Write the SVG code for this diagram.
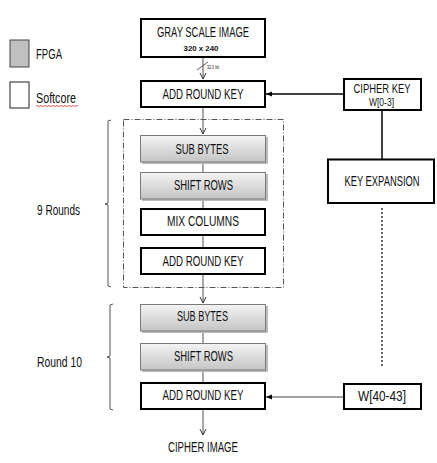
<svg xmlns="http://www.w3.org/2000/svg" width="437" height="463" viewBox="0 0 437 463">
<defs>
<linearGradient id="gr" x1="0" y1="0" x2="0" y2="1">
<stop offset="0" stop-color="#f4f4f4"/>
<stop offset="1" stop-color="#c4c4c4"/>
</linearGradient>
<marker id="ah" markerWidth="8" markerHeight="8" refX="7" refY="4" orient="auto" markerUnits="userSpaceOnUse">
<path d="M1,1 L7,4 L1,7" fill="none" stroke="#333" stroke-width="1"/>
</marker>
<marker id="ahf" markerWidth="8" markerHeight="8" refX="7" refY="4" orient="auto" markerUnits="userSpaceOnUse">
<path d="M1,1.5 L7,4 L1,6.5 Z" fill="#000"/>
</marker>
</defs>
<style>
text{font-family:"Liberation Sans",Arial,sans-serif;fill:#111;}
.t{font-size:14px;text-anchor:middle;}
.l{font-size:14px;}
.wb{fill:#fff;stroke:#000;stroke-width:2;}
.gb{fill:url(#gr);stroke:#7a7a7a;stroke-width:1;}
.sh{fill:#bbb;}
.ln{fill:none;stroke:#555;stroke-width:1;}
</style>
<rect width="437" height="463" fill="#fff"/>

<g id="legend">
<rect x="10" y="40" width="19" height="27" fill="#c0c0c0" stroke="#444" stroke-width="1"/>
<text class="l" x="36" y="59" textLength="26" lengthAdjust="spacingAndGlyphs">FPGA</text>
<rect x="10" y="82" width="19" height="26" fill="#fff" stroke="#222" stroke-width="1"/>
<text class="l" x="36" y="103" textLength="40" lengthAdjust="spacingAndGlyphs">Softcore</text>
<path d="M36,106 q1,-1 2,0 t2,0 t2,0 t2,0 t2,0 t2,0 t2,0 t2,0 t2,0 t2,0 t2,0 t2,0 t2,0 t2,0 t2,0 t2,0 t2,0 t2,0 t2,0 t2,0 t2,0" fill="none" stroke="#e03030" stroke-width="0.8"/>
</g>

<g id="connectors">
<line class="ln" x1="203" y1="57" x2="203" y2="79" marker-end="url(#ah)"/>
<line x1="197" y1="70" x2="208" y2="62" stroke="#333" stroke-width="0.8"/>
<text x="207" y="68.5" style="font-size:4.5px" textLength="12" lengthAdjust="spacingAndGlyphs">32 0 bit</text>
<line x1="343" y1="94" x2="266" y2="94" stroke="#000" stroke-width="1.5" marker-end="url(#ahf)"/>
<line class="ln" x1="203" y1="107" x2="203" y2="134" marker-end="url(#ah)"/>
<line class="ln" x1="203" y1="162" x2="203" y2="248"/>
<line class="ln" x1="203" y1="274" x2="203" y2="303" marker-end="url(#ah)"/>
<line class="ln" x1="203" y1="331" x2="203" y2="382"/>
<line class="ln" x1="203" y1="409" x2="203" y2="435" marker-end="url(#ah)"/>
<line x1="382" y1="110" x2="382" y2="159" stroke="#000" stroke-width="1.5"/>
<line x1="382" y1="208" x2="382" y2="367" stroke="#666" stroke-width="2" stroke-dasharray="2,2"/>
<line x1="343" y1="397" x2="266" y2="397" stroke="#444" stroke-width="1" marker-end="url(#ahf)"/>
<rect x="123.5" y="119.5" width="160" height="168" fill="none" stroke="#555" stroke-width="1" stroke-dasharray="6,2,1,2"/>
<path d="M111,120 L108,121 L108,203 L105,204 L108,205 L108,286 L111,287" class="ln"/>
<path d="M113,304 L110,305 L110,356 L107,357 L110,358 L110,409 L113,410" class="ln"/>
</g>

<g id="gray-scale-image">
<rect class="wb" x="141" y="19" width="124" height="38"/>
<text class="t" x="203" y="37" textLength="92" lengthAdjust="spacingAndGlyphs">GRAY SCALE IMAGE</text>
<text class="t" x="201" y="51" style="font-size:8px;font-weight:bold" textLength="35" lengthAdjust="spacingAndGlyphs">320 x 240</text>
</g>

<g id="add-round-key-1">
<rect class="wb" x="141" y="81" width="124" height="26"/>
<text class="t" x="203" y="99" textLength="81" lengthAdjust="spacingAndGlyphs">ADD ROUND KEY</text>
</g>

<g id="cipher-key">
<rect class="wb" x="344" y="79" width="77" height="31"/>
<text class="t" x="382" y="93" style="font-size:13px" textLength="57" lengthAdjust="spacingAndGlyphs">CIPHER KEY</text>
<text class="t" x="381.5" y="106" style="font-size:10px" textLength="25" lengthAdjust="spacingAndGlyphs">W[0-3]</text>
</g>

<g id="key-expansion">
<rect class="wb" x="328" y="159.5" width="106" height="43.5"/>
<text class="t" transform="translate(382,186) scale(0.67,1)" x="0" y="0">KEY EXPANSION</text>
</g>

<g id="sub-bytes-1">
<rect class="sh" x="142" y="137" width="126" height="27"/>
<rect class="gb" x="140.5" y="135.5" width="125" height="26.5"/>
<text class="t" x="202" y="154" textLength="53" lengthAdjust="spacingAndGlyphs">SUB BYTES</text>
</g>

<g id="shift-rows-1">
<rect class="sh" x="142" y="174" width="126" height="27"/>
<rect class="gb" x="140.5" y="172.5" width="125" height="26.5"/>
<text class="t" x="203.5" y="190" textLength="59" lengthAdjust="spacingAndGlyphs">SHIFT ROWS</text>
</g>

<g id="mix-columns">
<rect class="wb" x="141" y="209" width="124" height="26"/>
<text class="t" x="203" y="226" textLength="72" lengthAdjust="spacingAndGlyphs">MIX COLUMNS</text>
</g>

<g id="add-round-key-2">
<rect class="wb" x="141" y="248" width="124" height="26"/>
<text class="t" x="203" y="266" textLength="81" lengthAdjust="spacingAndGlyphs">ADD ROUND KEY</text>
</g>

<g id="nine-rounds">
<text class="l" x="37" y="215" textLength="43" lengthAdjust="spacingAndGlyphs">9 Rounds</text>
</g>

<g id="sub-bytes-2">
<rect class="sh" x="142" y="306" width="126" height="27"/>
<rect class="gb" x="140.5" y="304.5" width="125" height="26.5"/>
<text class="t" x="202.5" y="321" textLength="51" lengthAdjust="spacingAndGlyphs">SUB BYTES</text>
</g>

<g id="shift-rows-2">
<rect class="sh" x="142" y="345" width="126" height="27"/>
<rect class="gb" x="140.5" y="343.5" width="125" height="26.5"/>
<text class="t" x="203.5" y="361" textLength="59" lengthAdjust="spacingAndGlyphs">SHIFT ROWS</text>
</g>

<g id="add-round-key-3">
<rect class="wb" x="141" y="383" width="124" height="26"/>
<text class="t" x="203" y="400" textLength="81" lengthAdjust="spacingAndGlyphs">ADD ROUND KEY</text>
</g>

<g id="round-10">
<text class="l" x="37" y="367" textLength="45" lengthAdjust="spacingAndGlyphs">Round 10</text>
</g>

<g id="w40-43">
<rect class="wb" x="344" y="384" width="77" height="25"/>
<text class="t" x="382" y="401" textLength="48" lengthAdjust="spacingAndGlyphs">W[40-43]</text>
</g>

<g id="cipher-image">
<text class="t" x="203" y="452" textLength="70" lengthAdjust="spacingAndGlyphs">CIPHER IMAGE</text>
</g>
</svg>
